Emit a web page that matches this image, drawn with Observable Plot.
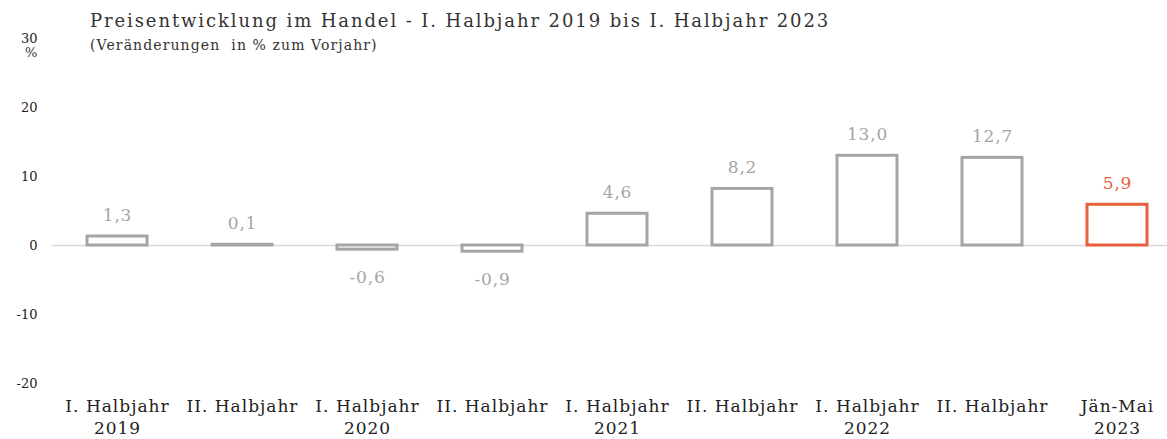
<!DOCTYPE html>
<html>
<head>
<meta charset="utf-8">
<script src="https://cdn.jsdelivr.net/npm/d3@7"></script>
<script src="https://cdn.jsdelivr.net/npm/@observablehq/plot@0.6"></script>
<style>
  html, body { margin: 0; padding: 0; background: #fff; }
  #wrap { position: relative; width: 1167px; height: 439px; overflow: hidden; font-family: "DejaVu Serif", serif; }
  #title { position: absolute; left: 90px; top: 10px; font-size: 18px; letter-spacing: 1.9px; color: #333; white-space: nowrap; }
  #subtitle { position: absolute; left: 90px; top: 37px; font-size: 14px; letter-spacing: 1.1px; color: #333; white-space: nowrap; }
  #unit { position: absolute; left: 25px; top: 45px; font-size: 13px; color: #333; }
  #chart { position: absolute; left: 0; top: 0; }
</style>
</head>
<body>
<div id="wrap">
  <div id="chart"></div>
  <div id="title">Preisentwicklung im Handel - I. Halbjahr 2019 bis I. Halbjahr 2023</div>
  <div id="subtitle">(Veränderungen&nbsp; in % zum Vorjahr)</div>
  <div id="unit">%</div>
</div>
<script>
const periods = ["I/2019", "II/2019", "I/2020", "II/2020", "I/2021", "II/2021", "I/2022", "II/2022", "Jän-Mai/2023"];
const labelLine1 = ["I. Halbjahr", "II. Halbjahr", "I. Halbjahr", "II. Halbjahr", "I. Halbjahr", "II. Halbjahr", "I. Halbjahr", "II. Halbjahr", "Jän-Mai"];
const labelLine2 = ["2019", "", "2020", "", "2021", "", "2022", "", "2023"];
const values = [1.3, 0.1, -0.6, -0.9, 4.6, 8.2, 13.0, 12.7, 5.9];
const yTicks = [-20, -10, 0, 10, 20, 30];
const highlighted = "Jän-Mai/2023";

const grey = "#a5a5a5";
const red = "#e8603c";

const data = periods.map((p, i) => ({ period: p, value: values[i] }));
const colorOf = d => d.period === highlighted ? red : grey;
const fmt = v => v.toFixed(1).replace(".", ",");
const labelOf = Object.fromEntries(periods.map((p, i) => [p, labelLine2[i] ? labelLine1[i] + "\n" + labelLine2[i] : labelLine1[i]]));

const chart = Plot.plot({
  width: 1167,
  height: 439,
  marginLeft: 52,
  marginRight: 0,
  marginTop: 38,
  marginBottom: 56,
  style: { fontFamily: "DejaVu Serif, serif", background: "transparent", overflow: "visible" },
  x: { domain: periods, range: [52.3, 1180.7], paddingInner: 0.52, paddingOuter: 0.26 },
  y: { domain: [-20, 30] },
  marks: [
    Plot.ruleY([0], { stroke: "#d9d9d9", strokeWidth: 1.5 }),
    Plot.barY(data, { x: "period", y1: 0, y2: "value", fill: "white", stroke: colorOf, strokeWidth: 3 }),
    Plot.text(data.filter(d => d.value >= 0), { x: "period", y: "value", text: d => fmt(d.value), dy: -21, fill: colorOf, fontSize: 17, lineAnchor: "middle" }),
    Plot.text(data.filter(d => d.value < 0), { x: "period", y: "value", text: d => fmt(d.value), dy: 28, fill: colorOf, fontSize: 17, lineAnchor: "middle" }),
    Plot.axisY({ ticks: yTicks, tickSize: 0, tickPadding: 15, tickFormat: d => String(d), fontSize: 13, color: "#222", label: null }),
    Plot.axisX({ tickSize: 0, tickPadding: 13, tickFormat: d => labelOf[d], fontSize: 17, lineHeight: 1.3, color: "#222", label: null })
  ]
});
d3.select(chart).selectAll('g[aria-label="x-axis tick label"]').attr("letter-spacing", "1px");
d3.select(chart).selectAll('g[aria-label="text"]').attr("letter-spacing", "0.8px");
document.getElementById("chart").appendChild(chart);
</script>
</body>
</html>
